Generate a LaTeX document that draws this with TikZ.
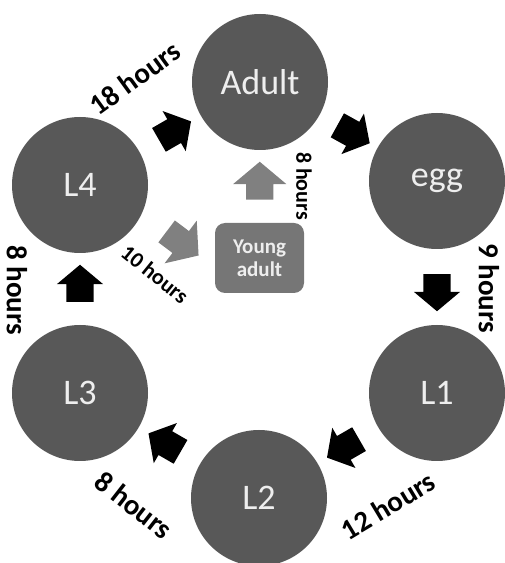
\documentclass[tikz,border=0pt]{standalone}
\usepackage{fontspec}
\setmainfont{Carlito}
\usetikzlibrary{positioning,calc,shapes.arrows}
\definecolor{stageGray}{RGB}{88,88,88}
\definecolor{stageText}{RGB}{238,238,238}
\definecolor{youngGray}{RGB}{118,118,118}
\definecolor{youngArrow}{RGB}{128,128,128}
\tikzstyle{stageNode}=[circle,fill=stageGray,minimum size=136pt,inner sep=0pt,text=stageText,font=\fontsize{36}{40}\selectfont]
\tikzstyle{blockArrow}=[single arrow,fill=black,minimum height=37pt,inner xsep=0pt,inner ysep=13.5pt,single arrow head extend=9.5pt,single arrow tip angle=100,single arrow head indent=0pt]
\tikzstyle{youngBlock}=[blockArrow,fill=youngArrow,inner ysep=13.5pt,single arrow head extend=13pt]
\tikzstyle{hoursLabel}=[font=\bfseries\fontsize{29}{32}\selectfont,inner sep=0pt]
\tikzstyle{smallLabel}=[font=\bfseries\fontsize{22}{24}\selectfont,inner sep=0pt]

\begin{document}
\begin{tikzpicture}[x=1pt,y=1pt]

    \useasboundingbox (0,0) rectangle (505,563);

    \node[stageNode] (adult) at (260, 481) {Adult};
    \node[stageNode] (egg) at (437, 382) {egg};
    \node[stageNode] (L1) at (437, 170) {L1};
    \node[stageNode] (L2) at (259, 65) {L2};
    \node[stageNode] (L3) at (80, 170) {L3};
    \node[stageNode] (L4) at (80, 378) {L4};

    \node[rounded corners=10pt,fill=youngGray,minimum width=89pt,minimum height=70pt,text=stageText,
          align=center,font=\bfseries\fontsize{21}{23}\selectfont] (young) at (259.5, 305) {Young\\adult};

    % cycle arrows
    \node[blockArrow,rotate=30] (a4) at ($(L4)!0.5!(adult)$) {};
    \node[blockArrow,rotate=-29] (a5) at ($(adult)!0.5!(egg)$) {};
    \node[blockArrow,rotate=-90] (a0) at ($(egg)!0.5!(L1)$) {};
    \node[blockArrow,rotate=210] (a1) at ($(L1)!0.5!(L2)$) {};
    \node[blockArrow,rotate=150] (a2) at ($(L2)!0.5!(L3)$) {};
    \node[blockArrow,rotate=90] (a3) at ($(L3)!0.5!(L4)$) {};

    % young adult branch
    \node[youngBlock,minimum height=40pt,rotate=-37] (y1) at (178, 323) {};
    \node[youngBlock,minimum height=38pt,rotate=90] (y2) at ($(young.north)!0.5!(adult.south)$) {};

    \node[hoursLabel,rotate=36] (t18) at (135, 485) {18 hours};
    \node[hoursLabel,rotate=-90] (t9) at (489, 275) {9 hours};
    \node[hoursLabel,rotate=31] (t12) at (388, 57) {12 hours};
    \node[hoursLabel,rotate=-38] (t8b) at (134, 58) {8 hours};
    \node[hoursLabel,rotate=-90] (t8l) at (17, 273) {8 hours};
    \node[smallLabel,rotate=-90] (t8a) at (304, 377) {8 hours};
    \node[smallLabel,rotate=-39] (t10) at (155, 289) {10 hours};

\end{tikzpicture}
\end{document}
